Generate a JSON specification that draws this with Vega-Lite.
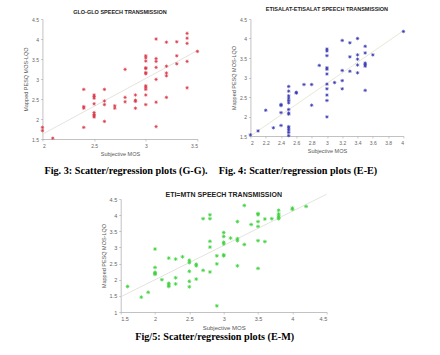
{
  "$schema": "https://vega.github.io/schema/vega-lite/v6.json",
  "padding": {"left": 23, "top": 6, "right": 5, "bottom": 5},
  "background": "white",
  "config": {
    "view": {"stroke": null},
    "font": "Liberation Sans",
    "axis": {
      "grid": false,
      "labelFontSize": 5,
      "labelColor": "#666",
      "titleFontSize": 5.5,
      "titleFontWeight": "normal",
      "titleColor": "#555",
      "domainColor": "#999",
      "domainWidth": 0.6,
      "tickColor": "#999",
      "tickSize": 2,
      "tickWidth": 0.5,
      "labelPadding": 2,
      "titlePadding": 3
    }
  },
  "datasets": {
    "g_pts": [
      {"x":2,"y":1.79},{"x":2,"y":1.71},{"x":2.1,"y":1.52},{"x":2.4,"y":2.74},{"x":2.4,"y":2.31},{"x":2.4,"y":2.27},{"x":2.4,"y":1.79},
      {"x":2.5,"y":2.6},{"x":2.5,"y":2.56},{"x":2.5,"y":2.52},{"x":2.5,"y":2.38},{"x":2.5,"y":2.16},{"x":2.5,"y":2.11},{"x":2.5,"y":2.08},{"x":2.5,"y":2.05},
      {"x":2.6,"y":2.74},{"x":2.6,"y":2.45},{"x":2.6,"y":2.36},{"x":2.6,"y":1.94},{"x":2.7,"y":2.33},{"x":2.7,"y":2.27},
      {"x":2.8,"y":3.24},{"x":2.8,"y":2.54},{"x":2.8,"y":2.43},{"x":2.9,"y":2.6},{"x":2.9,"y":2.47},{"x":2.9,"y":2.44},{"x":2.9,"y":2.27},
      {"x":3,"y":3.58},{"x":3,"y":3.53},{"x":3,"y":3.45},{"x":3,"y":3.28},{"x":3,"y":3.26},{"x":3,"y":3.16},{"x":3,"y":3.13},{"x":3,"y":2.83},{"x":3,"y":2.79},{"x":3,"y":2.74},{"x":3,"y":2.6},{"x":3,"y":2.36},
      {"x":3.1,"y":4.0},{"x":3.1,"y":3.51},{"x":3.1,"y":3.44},{"x":3.1,"y":3.29},{"x":3.1,"y":2.99},{"x":3.1,"y":2.42},{"x":3.1,"y":1.81},
      {"x":3.2,"y":3.92},{"x":3.2,"y":3.32},{"x":3.2,"y":3.15},{"x":3.2,"y":3.08},{"x":3.2,"y":2.54},
      {"x":3.3,"y":3.93},{"x":3.3,"y":3.58},{"x":3.3,"y":3.38},
      {"x":3.4,"y":4.14},{"x":3.4,"y":4.02},{"x":3.4,"y":3.89},{"x":3.4,"y":3.44},{"x":3.4,"y":2.78},{"x":3.5,"y":3.69}
    ],
    "g_line": [{"x":2,"y":1.62},{"x":3.5,"y":3.71}],
    "e_pts": [
      {"x":2,"y":1.53},{"x":2.1,"y":1.63},{"x":2.2,"y":2.16},{"x":2.3,"y":1.71},{"x":2.4,"y":2.31},{"x":2.4,"y":2.28},{"x":2.4,"y":2.1},{"x":2.4,"y":1.77},
      {"x":2.5,"y":2.77},{"x":2.5,"y":2.65},{"x":2.5,"y":2.53},{"x":2.5,"y":2.47},{"x":2.5,"y":2.41},{"x":2.5,"y":2.35},{"x":2.5,"y":2.18},{"x":2.5,"y":2.09},{"x":2.5,"y":2.06},{"x":2.5,"y":1.74},{"x":2.5,"y":1.7},{"x":2.5,"y":1.65},{"x":2.5,"y":1.59},{"x":2.5,"y":1.51},
      {"x":2.6,"y":2.62},{"x":2.6,"y":2.6},{"x":2.7,"y":2.82},{"x":2.8,"y":2.82},{"x":2.8,"y":2.29},{"x":2.9,"y":3.31},
      {"x":3,"y":3.73},{"x":3,"y":3.68},{"x":3,"y":3.56},{"x":3,"y":3.25},{"x":3,"y":3.21},{"x":3,"y":3.09},{"x":3,"y":2.83},{"x":3,"y":2.71},{"x":3,"y":2.55},{"x":3,"y":2.41},{"x":3,"y":1.99},
      {"x":3.1,"y":2.87},{"x":3.2,"y":3.95},{"x":3.2,"y":3.18},{"x":3.2,"y":2.92},{"x":3.2,"y":2.71},
      {"x":3.3,"y":3.89},{"x":3.3,"y":3.53},{"x":3.3,"y":3.16},
      {"x":3.4,"y":4.0},{"x":3.4,"y":3.58},{"x":3.4,"y":3.47},{"x":3.4,"y":3.32},{"x":3.4,"y":3.12},
      {"x":3.5,"y":3.8},{"x":3.5,"y":3.63},{"x":3.5,"y":3.37},{"x":3.5,"y":3.33},{"x":3.5,"y":3.29},{"x":3.5,"y":2.67},
      {"x":3.6,"y":3.58},{"x":4,"y":4.18}
    ],
    "e_line": [{"x":2,"y":1.5},{"x":4,"y":4.2}],
    "m_pts": [
      {"x":1.6,"y":1.79},{"x":1.8,"y":1.46},{"x":1.9,"y":1.61},{"x":2,"y":2.95},{"x":2,"y":2.38},{"x":2,"y":2.23},{"x":2,"y":2.19},{"x":2,"y":2.17},{"x":2.1,"y":2.0},
      {"x":2.2,"y":2.67},{"x":2.2,"y":1.89},{"x":2.2,"y":1.84},{"x":2.2,"y":1.79},{"x":2.3,"y":2.64},{"x":2.3,"y":2.06},{"x":2.3,"y":1.87},{"x":2.4,"y":2.71},
      {"x":2.5,"y":2.6},{"x":2.5,"y":2.53},{"x":2.5,"y":2.26},{"x":2.5,"y":1.95},{"x":2.5,"y":1.78},{"x":2.6,"y":2.48},{"x":2.6,"y":2.43},{"x":2.6,"y":2.02},
      {"x":2.7,"y":3.89},{"x":2.7,"y":2.29},{"x":2.8,"y":4.01},{"x":2.8,"y":3.89},{"x":2.8,"y":3.19},{"x":2.8,"y":3.01},{"x":2.8,"y":2.24},
      {"x":2.9,"y":2.74},{"x":2.9,"y":2.49},{"x":2.9,"y":1.19},{"x":3,"y":3.46},{"x":3,"y":3.34},{"x":3,"y":3.16},{"x":3,"y":3.11},{"x":3,"y":2.77},{"x":3,"y":2.74},
      {"x":3.1,"y":3.29},{"x":3.2,"y":3.8},{"x":3.2,"y":3.27},{"x":3.2,"y":3.21},{"x":3.2,"y":2.43},{"x":3.3,"y":4.3},{"x":3.3,"y":3.09},{"x":3.4,"y":3.71},
      {"x":3.5,"y":4.05},{"x":3.5,"y":4.01},{"x":3.5,"y":3.8},{"x":3.5,"y":3.65},{"x":3.5,"y":3.21},{"x":3.5,"y":2.35},{"x":3.6,"y":3.88},{"x":3.6,"y":3.18},{"x":3.7,"y":3.89},
      {"x":3.8,"y":4.15},{"x":3.8,"y":4.04},{"x":3.8,"y":3.98},{"x":3.8,"y":3.93},{"x":3.8,"y":3.89},{"x":4,"y":4.22},{"x":4,"y":4.18},{"x":4.2,"y":4.27}
    ],
    "m_line": [{"x":1.5,"y":1.47},{"x":4.5,"y":4.65}]
  },
  "spacing": 14,
  "center": true,
  "vconcat": [
    {
      "spacing": 10,
      "hconcat": [
        {
          "title": {"text": "Fig. 3: Scatter/regression plots (G-G).", "orient": "bottom", "anchor": "middle", "font": "Liberation Serif", "fontSize": 10.2, "fontWeight": "bold", "color": "#000", "offset": 9, "dx": 14},
          "vconcat": [
            {
              "width": 155, "height": 120,
              "title": {"text": "GLO-GLO SPEECH TRANSMISSION", "fontSize": 5.5, "fontWeight": "bold", "color": "#222", "offset": 2},
              "encoding": {
                "x": {"field": "x", "type": "quantitative", "scale": {"domain": [2, 3.5], "nice": false, "zero": false}, "axis": {"title": "Subjective MOS", "values": [2, 2.5, 3, 3.5], "format": "~g"}},
                "y": {"field": "y", "type": "quantitative", "scale": {"domain": [1.5, 4.5], "nice": false, "zero": false}, "axis": {"title": "Mapped PESQ MOS-LQO", "values": [1.5, 2, 2.5, 3, 3.5, 4, 4.5], "format": "~g"}}
              },
              "layer": [
                {"data": {"name": "g_line"}, "mark": {"type": "line", "color": "#dcdcd6", "strokeWidth": 0.8}},
                {"data": {"name": "g_pts"}, "mark": {"type": "point", "shape": "M-1,0L1,0M0,-1L0,1M-0.7,-0.7L0.7,0.7M-0.7,0.7L0.7,-0.7", "size": 12, "filled": false, "color": "#d83545", "strokeWidth": 0.7, "opacity": 1}}
              ]
            }
          ]
        },
        {
          "title": {"text": "Fig. 4: Scatter/regression plots (E-E)", "orient": "bottom", "anchor": "middle", "font": "Liberation Serif", "fontSize": 10.2, "fontWeight": "bold", "color": "#000", "offset": 12, "dx": -21},
          "vconcat": [
            {
              "width": 153, "height": 117,
              "title": {"text": "ETISALAT-ETISALAT SPEECH TRANSMISSION", "fontSize": 5.5, "fontWeight": "bold", "color": "#222", "offset": 5},
              "encoding": {
                "x": {"field": "x", "type": "quantitative", "scale": {"domain": [2, 4], "nice": false, "zero": false}, "axis": {"title": "Subjective MOS", "values": [2, 2.2, 2.4, 2.6, 2.8, 3, 3.2, 3.4, 3.6, 3.8, 4], "format": "~g"}},
                "y": {"field": "y", "type": "quantitative", "scale": {"domain": [1.5, 4.5], "nice": false, "zero": false}, "axis": {"title": "Mapped PESQ MOS-LQO", "values": [1.5, 2, 2.5, 3, 3.5, 4, 4.5], "format": "~g"}}
              },
              "layer": [
                {"data": {"name": "e_line"}, "mark": {"type": "line", "color": "#e2e2cc", "strokeWidth": 0.8}},
                {"data": {"name": "e_pts"}, "mark": {"type": "point", "shape": "M-1,0L1,0M0,-1L0,1M-0.7,-0.7L0.7,0.7M-0.7,0.7L0.7,-0.7", "size": 12, "filled": false, "color": "#3636b0", "strokeWidth": 0.7, "opacity": 1}}
              ]
            }
          ]
        }
      ]
    },
    {
      "title": {"text": "Fig/5: Scatter/regression plots (E-M)", "orient": "bottom", "anchor": "middle", "font": "Liberation Serif", "fontSize": 10.2, "fontWeight": "bold", "color": "#000", "offset": 1, "dx": 0},
      "vconcat": [
        {
          "width": 206, "height": 113,
          "title": {"text": "ETI=MTN SPEECH TRANSMISSION", "fontSize": 7, "fontWeight": "bold", "color": "#222", "offset": -5},
          "encoding": {
            "x": {"field": "x", "type": "quantitative", "scale": {"domain": [1.5, 4.5], "nice": false, "zero": false}, "axis": {"title": "Subjective MOS", "titleFontSize": 6, "labelFontSize": 5.5, "values": [1.5, 2, 2.5, 3, 3.5, 4, 4.5], "format": "~g"}},
            "y": {"field": "y", "type": "quantitative", "scale": {"domain": [1, 4.5], "nice": false, "zero": false}, "axis": {"title": "Mapped PESQ MOS-LQO", "titleFontSize": 5.5, "labelFontSize": 5.5, "values": [1, 1.5, 2, 2.5, 3, 3.5, 4, 4.5], "format": "~g"}}
          },
          "layer": [
            {"data": {"name": "m_line"}, "mark": {"type": "line", "color": "#dcdcd6", "strokeWidth": 0.8}},
            {"data": {"name": "m_pts"}, "mark": {"type": "point", "shape": "M-1,0L1,0M0,-1L0,1M-0.7,-0.7L0.7,0.7M-0.7,0.7L0.7,-0.7", "size": 14, "filled": false, "color": "#3ed23e", "strokeWidth": 0.8, "opacity": 1}}
          ]
        }
      ]
    }
  ]
}
